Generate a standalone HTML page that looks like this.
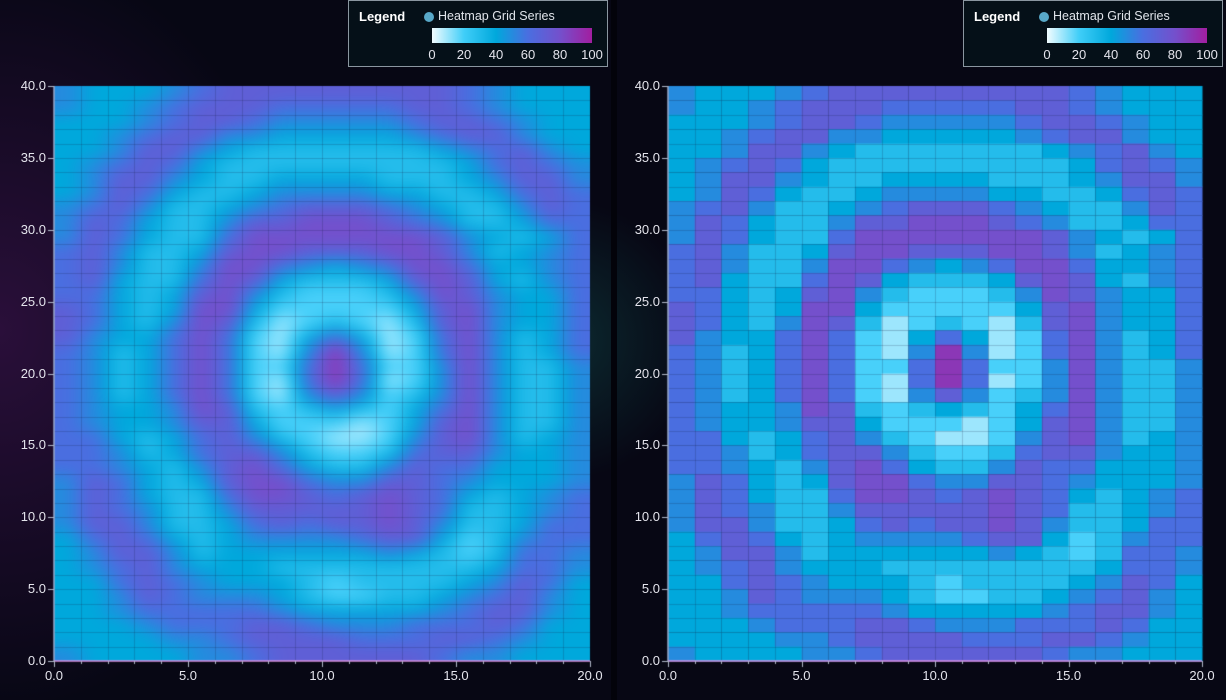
<!DOCTYPE html>
<html><head><meta charset="utf-8">
<style>
html,body{margin:0;padding:0;}
body{width:1226px;height:700px;overflow:hidden;background:#070714;font-family:"Liberation Sans",sans-serif;position:relative;}
#bg{position:absolute;left:0;top:0;width:1226px;height:700px;background:radial-gradient(ellipse 300px 380px at 0px 330px,#2a0f3a 0%,rgba(20,8,30,0) 100%),radial-gradient(circle 140px at 560px 340px,#0c2a30 0%,rgba(7,7,20,0) 100%),#070714;}
#sep{position:absolute;left:611px;top:0;width:6px;height:700px;background:#03030a;}
canvas{position:absolute;}
.lbl{position:absolute;color:#e4e4ec;font-size:13px;line-height:14px;}
.legend{position:absolute;top:0;width:260px;height:67px;border:1px solid #8a96a0;background:#051018;box-sizing:border-box;}
.legend .t{position:absolute;left:10px;top:8px;color:#fff;font-weight:bold;font-size:13px;}
.legend .dot{position:absolute;left:75px;top:11px;width:10px;height:10px;border-radius:50%;background:#58a8c8;}
.legend .s{position:absolute;left:89px;top:8px;color:#e0e4ea;font-size:12.5px;}
.legend .bar{position:absolute;left:83px;top:27px;width:160px;height:15px;background:linear-gradient(90deg,#f2fcff 0%,#40cef8 20%,#00a8dc 40%,#4a6ee0 60%,#7450cc 80%,#a21ea0 100%);}
.legend .n{position:absolute;top:46px;color:#e4e4ec;font-size:13px;transform:translateX(-50%);}
</style></head>
<body>
<div id="bg"></div>
<div id="sep"></div>
<canvas id="c" width="1226" height="700"></canvas>
<div id="labels"></div>
<div class="legend" style="left:348px">
<div class="t">Legend</div><div class="dot"></div><div class="s">Heatmap Grid Series</div><div class="bar"></div>
<div class="n" style="left:83px">0</div><div class="n" style="left:115px">20</div><div class="n" style="left:147px">40</div><div class="n" style="left:179px">60</div><div class="n" style="left:211px">80</div><div class="n" style="left:243px">100</div>
</div>
<div class="legend" style="left:963px">
<div class="t">Legend</div><div class="dot"></div><div class="s">Heatmap Grid Series</div><div class="bar"></div>
<div class="n" style="left:83px">0</div><div class="n" style="left:115px">20</div><div class="n" style="left:147px">40</div><div class="n" style="left:179px">60</div><div class="n" style="left:211px">80</div><div class="n" style="left:243px">100</div>
</div>
<script>
// rows from top (y=40) to bottom (y=0); each digit = value/10
const gridRows = [
"54445677777777765444","54456777666667765444","44456776555556776544","44567755444445677544",
"44577543333333456754","45676433333333346765","45775433444433345775","45764334555544334676",
"56753345677765433576","57643357788876533466","57643368888888754346","67533478877788753456",
"67533588654568864456","67433687433347874356","66434785322235875446","76434884222224785446",
"76435873123213785446","75446862146412685346","65346862159512685346","65346862269622585335",
"65346862169612585335","65346862157523585335","65445873234324685335","65445774222124785335",
"66434675321125785345","66534677532236775445","66543578643357664445","57643478865577654445",
"57643368876787643456","57653357777787633456","57753346767787533466","46764345555677423566",
"45775344444454323665","45675444333333334665","44676544432333345764","44576555432233456754",
"44566666544444567754","44456667765556667644","44445567777666776544","54444556777777655444"
];
const xTicks=["0.0","5.0","10.0","15.0","20.0"];
const yTicks=["0.0","5.0","10.0","15.0","20.0","25.0","30.0","35.0","40.0"];
const xTickVals=[0,5,10,15,20];
const yTickVals=[0,5,10,15,20,25,30,35,40];
const values=gridRows.map(r=>r.split('').map(d=>+d*10));
const NR=values.length, NC=values[0].length;

const stops=[[0,[242,252,255]],[20,[72,208,250]],[40,[0,168,220]],[60,[74,110,224]],[80,[116,80,204]],[100,[162,30,160]]];
function col(v){v=Math.max(0,Math.min(100,v));for(let i=1;i<stops.length;i++){if(v<=stops[i][0]){const a=stops[i-1],b=stops[i],t=(v-a[0])/(b[0]-a[0]);return a[1].map((c,k)=>Math.round(c+(b[1][k]-c)*t));}}return stops[5][1];}

const panels=[{x0:54,x1:590,smooth:true,name:'left'},{x0:668,x1:1202,smooth:false,name:'right'}];
const Y0=86,Y1=661;
const cv=document.getElementById('c'),ctx=cv.getContext('2d');
const lab=document.getElementById('labels');
function valAt(r,c){r=Math.max(0,Math.min(NR-1,r));c=Math.max(0,Math.min(NC-1,c));return values[r][c];}
panels.forEach(p=>{
  const sx=v=>p.x0+(p.x1-p.x0)*v/20, sy=v=>Y1-(Y1-Y0)*v/40;
  if(p.smooth){
    const w=p.x1-p.x0,h=Y1-Y0,P=24,W=w+2*P,H=h+2*P;
    const off=document.createElement('canvas');off.width=W;off.height=H;const octx=off.getContext('2d');
    const img=octx.createImageData(W,H);
    for(let j=0;j<H;j++){const yv=40-(j-P+0.5)/h*40;const rf=(40-yv)-0.5;const r0=Math.floor(rf),tr=rf-r0;
      for(let i=0;i<W;i++){const xv=(i-P+0.5)/w*20;const cf=xv-0.5;const c0=Math.floor(cf),tc=cf-c0;
        const v=(valAt(r0,c0)*(1-tc)+valAt(r0,c0+1)*tc)*(1-tr)+(valAt(r0+1,c0)*(1-tc)+valAt(r0+1,c0+1)*tc)*tr;
        const cc=col(v),k=(j*W+i)*4;img.data[k]=cc[0];img.data[k+1]=cc[1];img.data[k+2]=cc[2];img.data[k+3]=255;}}
    octx.putImageData(img,0,0);
    ctx.save();ctx.beginPath();ctx.rect(p.x0,Y0,w,h);ctx.clip();
    ctx.filter='blur(7px)';ctx.drawImage(off,p.x0-P,Y0-P);ctx.filter='none';ctx.restore();
  } else {
    for(let r=0;r<NR;r++)for(let c=0;c<NC;c++){const cc=col(values[r][c]);ctx.fillStyle=`rgb(${cc})`;
      const xa=sx(c),xb=sx(c+1),ya=sy(40-r),yb=sy(39-r);ctx.fillRect(xa,ya,xb-xa+0.5,yb-ya+0.5);}
  }
  ctx.strokeStyle='rgba(20,30,70,0.2)';ctx.lineWidth=1;
  for(let c=1;c<20;c++){const x=Math.round(sx(c))+0.5;ctx.beginPath();ctx.moveTo(x,Y0);ctx.lineTo(x,Y1);ctx.stroke();}
  for(let r=1;r<40;r++){const y=Math.round(sy(r))+0.5;ctx.beginPath();ctx.moveTo(p.x0,y);ctx.lineTo(p.x1,y);ctx.stroke();}
  ctx.strokeStyle='#9aa8c8';ctx.lineWidth=1.5;
  ctx.beginPath();ctx.moveTo(p.x0,Y0);ctx.lineTo(p.x0,Y1);ctx.stroke();
  ctx.strokeStyle='#d890e0';ctx.beginPath();ctx.moveTo(p.x0,Y1);ctx.lineTo(p.x1,Y1);ctx.stroke();
  ctx.strokeStyle='#b0b8c8';ctx.lineWidth=1;
  for(let c=0;c<=20;c++){const x=Math.round(sx(c))+0.5;ctx.beginPath();ctx.moveTo(x,Y1);ctx.lineTo(x,Y1+(c%5==0?6:3));ctx.stroke();}
  yTickVals.forEach(v=>{const y=Math.round(sy(v))+0.5;ctx.beginPath();ctx.moveTo(p.x0-6,y);ctx.lineTo(p.x0,y);ctx.stroke();});
  xTicks.forEach((t,i)=>{const d=document.createElement('div');d.className='lbl';d.textContent=t;
    
    
    d.style.left=(sx(xTickVals[i])-14)+'px';d.style.top='669px';d.style.width='28px';d.style.textAlign='center';lab.appendChild(d);});
  yTicks.forEach((t,i)=>{const d=document.createElement('div');d.className='lbl';d.textContent=t;
    
    
    d.style.left=(p.x0-50)+'px';d.style.width='42px';d.style.textAlign='right';d.style.top=(sy(yTickVals[i])-7)+'px';lab.appendChild(d);});
});
</script>
</body></html>
